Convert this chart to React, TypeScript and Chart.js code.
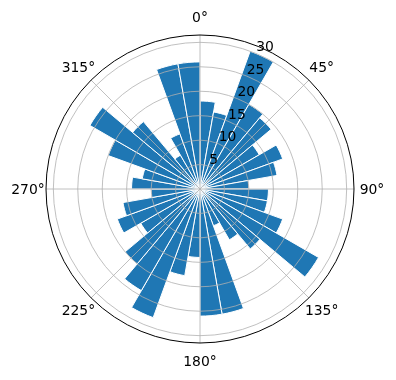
import React, { useEffect, useRef } from "react";
import { Chart, registerables } from "chart.js";

Chart.register(...registerables);

// 36 angular bins of 10°, starting at 0° (north) going clockwise
const binLabels = [
  "0°", "10°", "20°", "30°", "40°", "50°", "60°", "70°", "80°",
  "90°", "100°", "110°", "120°", "130°", "140°", "150°", "160°", "170°",
  "180°", "190°", "200°", "210°", "220°", "230°", "240°", "250°", "260°",
  "270°", "280°", "290°", "300°", "310°", "320°", "330°", "340°", "350°",
];
const counts = [
  18, 16, 30, 20, 19, 14, 18, 16, 10,
  14, 14, 18, 28, 16, 12, 8, 26, 26,
  14, 18, 28, 24, 20, 14, 18, 16, 10,
  14, 12, 20, 26, 18, 8, 12, 26, 26,
];
const radialTicks = [5, 10, 15, 20, 25, 30];
const rMax = 31.5;
const angleTickLabels = ["0°", "45°", "90°", "135°", "180°", "225°", "270°", "315°"];
const angleTickDegrees = [0, 45, 90, 135, 180, 225, 270, 315];

const FONT = '13.9px "DejaVu Sans"';

const overlayPlugin = {
  id: "mplOverlay",
  afterDatasetsDraw(chart: any) {
    const s = chart.scales.r;
    const ctx = chart.ctx as CanvasRenderingContext2D;
    const cx = s.xCenter;
    const cy = s.yCenter;
    const R = s.drawingArea;
    ctx.save();
    // radial grid circles
    ctx.strokeStyle = "#b0b0b0";
    ctx.lineWidth = 0.8;
    radialTicks.forEach((t) => {
      const r = s.getDistanceFromCenterForValue(t);
      ctx.beginPath();
      ctx.arc(cx, cy, r, 0, Math.PI * 2);
      ctx.stroke();
    });
    // angular grid lines
    angleTickDegrees.forEach((d) => {
      const a = (d * Math.PI) / 180;
      ctx.beginPath();
      ctx.moveTo(cx, cy);
      ctx.lineTo(cx + R * Math.sin(a), cy - R * Math.cos(a));
      ctx.stroke();
    });
    // outer spine
    ctx.strokeStyle = "#000000";
    ctx.lineWidth = 1;
    ctx.beginPath();
    ctx.arc(cx, cy, R, 0, Math.PI * 2);
    ctx.stroke();
    // angle labels
    ctx.fillStyle = "#000000";
    ctx.font = FONT;
    ctx.textAlign = "center";
    ctx.textBaseline = "middle";
    angleTickDegrees.forEach((d, i) => {
      const a = (d * Math.PI) / 180;
      const rr = R + 18;
      ctx.fillText(angleTickLabels[i], cx + rr * Math.sin(a), cy - rr * Math.cos(a) + 1);
    });
    // radial tick labels at 22.5°
    ctx.textAlign = "left";
    ctx.textBaseline = "alphabetic";
    const la = (22.5 * Math.PI) / 180;
    radialTicks.forEach((t) => {
      const r = s.getDistanceFromCenterForValue(t);
      ctx.fillText(String(t), cx + r * Math.sin(la), cy - r * Math.cos(la) - 2.5);
    });
    ctx.restore();
  },
};

export default function App() {
  const ref = useRef<HTMLCanvasElement | null>(null);
  useEffect(() => {
    if (!ref.current) return;
    const chart = new Chart(ref.current, {
      type: "polarArea",
      data: {
        labels: binLabels,
        datasets: [
          {
            data: counts,
            backgroundColor: "#1f77b4",
            borderColor: "#ffffff",
            borderWidth: 1,
          },
        ],
      },
      options: {
        responsive: false,
        animation: false,
        layout: { padding: { left: 46, right: 42, top: 35, bottom: 37 } },
        plugins: { legend: { display: false }, tooltip: { enabled: false } },
        scales: {
          r: {
            min: 0,
            max: rMax,
            startAngle: 0,
            ticks: { display: false },
            grid: { display: false },
            angleLines: { display: false },
            pointLabels: { display: false },
          },
        },
      },
      plugins: [overlayPlugin],
    } as any);
    return () => chart.destroy();
  }, []);
  return (
    <div style={{ position: "absolute", left: 0, top: 0, width: 396, height: 380, background: "#fff" }}>
      <canvas ref={ref} width={396} height={380} style={{ display: "block" }} />
    </div>
  );
}
